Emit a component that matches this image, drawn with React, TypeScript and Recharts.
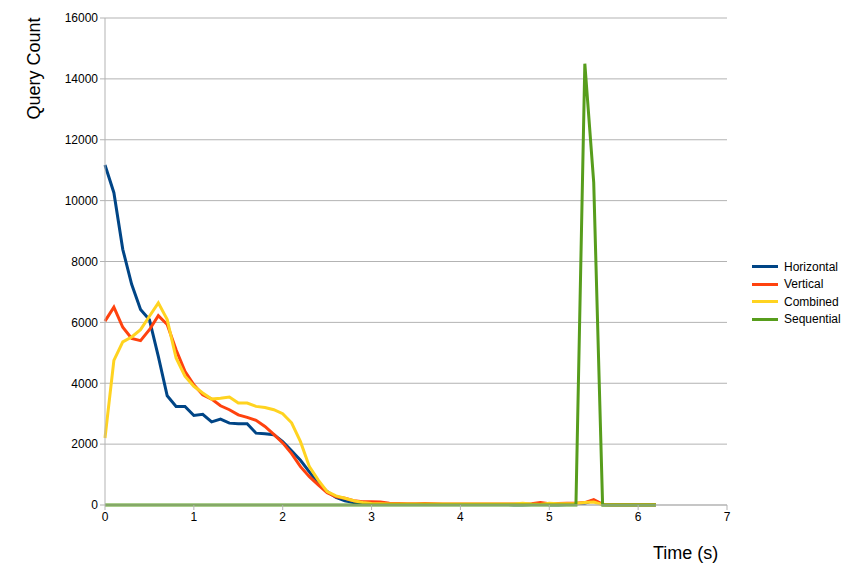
import { LineChart, Line, XAxis, YAxis, CartesianGrid } from "recharts";

const times = Array.from({ length: 63 }, (_, i) => Math.round(i * 10) / 100);

const horizontal = [
  11170, 10260, 8400, 7250, 6420, 6090, 4880, 3590, 3240, 3240,
  2940, 2980, 2730, 2820, 2690, 2670, 2670, 2360, 2340, 2310,
  2080, 1780, 1470, 1090, 710, 440, 250, 140, 80, 30,
  20, 20, 20, 20, 20, 20, 20, 20, 20, 20,
  20, 20, 20, 20, 20, 20, 10, 10, 20, 60,
  10, 10, 20, 40, 60, 150, 10, 10, 10, 10,
  10, 10, 10,
];
const vertical = [
  6040, 6500, 5840, 5470, 5400, 5760, 6220, 5930, 5100, 4390,
  3950, 3620, 3480, 3260, 3130, 2960, 2880, 2780, 2580, 2320,
  2040, 1690, 1260, 930, 660, 400, 270, 220, 140, 110,
  110, 100, 60, 50, 40, 40, 50, 40, 30, 30,
  30, 30, 30, 30, 30, 30, 30, 30, 40, 80,
  40, 50, 60, 60, 80, 180, 20, 10, 10, 10,
  10, 10, 10,
];
const combined = [
  2200, 4750, 5360, 5520, 5760, 6200, 6640, 6090, 4830, 4230,
  3900, 3680, 3480, 3510, 3550, 3350, 3350, 3240, 3200, 3130,
  3000, 2700, 2080, 1260, 820, 440, 300, 220, 140, 80,
  50, 40, 30, 30, 30, 30, 30, 30, 30, 30,
  30, 30, 30, 30, 30, 30, 30, 60, 30, 20,
  60, 40, 40, 50, 80, 100, 10, 10, 10, 10,
  10, 10, 10,
];
const sequential = [
  0, 0, 0, 0, 0, 0, 0, 0, 0, 0,
  0, 0, 0, 0, 0, 0, 0, 0, 0, 0,
  0, 0, 0, 0, 0, 0, 0, 0, 0, 0,
  0, 0, 0, 0, 0, 0, 0, 0, 0, 0,
  0, 0, 0, 0, 0, 0, 0, 0, 0, 0,
  0, 0, 0, 0, 14500, 10600, 0, 0, 0, 0,
  0, 0, 0,
];

const xTicks = [0, 1, 2, 3, 4, 5, 6, 7];
const yTicks = [0, 2000, 4000, 6000, 8000, 10000, 12000, 14000, 16000];

const series = [
  { key: "horizontal", name: "Horizontal", color: "#004586" },
  { key: "vertical", name: "Vertical", color: "#ff420e" },
  { key: "combined", name: "Combined", color: "#ffd320" },
  { key: "sequential", name: "Sequential", color: "#579d1c" },
];

const data = times.map((t, i) => ({
  t,
  horizontal: horizontal[i],
  vertical: vertical[i],
  combined: combined[i],
  sequential: sequential[i],
}));

const font = "'Liberation Sans', Arial, sans-serif";

export default function App() {
  return (
    <div style={{ position: "relative", width: 845, height: 570, fontFamily: font }}>
      <LineChart
        width={845}
        height={570}
        data={data}
        margin={{ top: 10, right: 126, bottom: 43, left: 37 }}
      >
        <CartesianGrid vertical={false} stroke="#b3b3b3" />
        <XAxis
          dataKey="t"
          type="number"
          domain={[0, 7]}
          ticks={xTicks}
          stroke="#b3b3b3"
          tick={{ fill: "#000", fontSize: 12, fontFamily: font }}
          tickSize={5}
          height={30}
        />
        <YAxis
          domain={[0, 16000]}
          ticks={yTicks}
          stroke="#b3b3b3"
          tick={{ fill: "#000", fontSize: 12, fontFamily: font }}
          tickSize={5}
          width={60}
        />
        {series.map((s) => (
          <Line
            key={s.key}
            dataKey={s.key}
            name={s.name}
            stroke={s.color}
            strokeWidth={3}
            dot={false}
            type="linear"
            isAnimationActive={false}
          />
        ))}
      </LineChart>
      <div
        style={{
          position: "absolute",
          left: 1,
          top: 50,
          transform: "rotate(-90deg)",
          transformOrigin: "center",
          width: 50,
          fontSize: 18,
          whiteSpace: "nowrap",
          display: "flex",
          justifyContent: "center",
        }}
      >
        Query Count
      </div>
      <div style={{ position: "absolute", left: 645, top: 535, fontSize: 18 }}>Time (s)</div>
      <div style={{ position: "absolute", left: 744, top: 250, fontSize: 12 }}>
        {series.map((s) => (
          <div key={s.key} style={{ display: "flex", alignItems: "center", height: 17.5 }}>
            <span style={{ width: 26, height: 3, background: s.color, marginRight: 6 }} />
            {s.name}
          </div>
        ))}
      </div>
    </div>
  );
}
